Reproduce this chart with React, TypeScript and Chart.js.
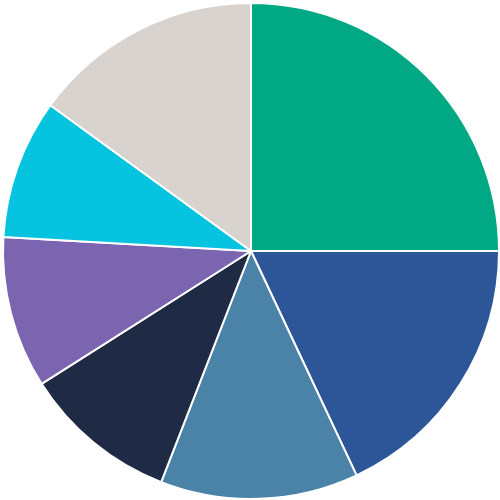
import { useEffect, useRef } from "react";
import { Chart, registerables } from "chart.js";

Chart.register(...registerables);

const SEGMENTS = ["A", "B", "C", "D", "E", "F", "G"];
const SHARES = [25.0, 18.0, 12.9, 10.1, 9.9, 9.1, 15.0];
const COLORS = ["#00A984", "#2D5699", "#4A82A8", "#1F2A44", "#7B64B0", "#06C3DF", "#D8D3CF"];

export default function App() {
  const canvasRef = useRef<HTMLCanvasElement>(null);

  useEffect(() => {
    document.body.style.margin = "0";
    const canvas = canvasRef.current;
    if (!canvas) return;
    const chart = new Chart(canvas, {
      type: "pie",
      data: {
        labels: SEGMENTS,
        datasets: [
          {
            data: SHARES,
            backgroundColor: COLORS,
            borderColor: "#FFFFFF",
            borderWidth: 2,
            hoverOffset: 0,
          },
        ],
      },
      options: {
        animation: false,
        responsive: true,
        maintainAspectRatio: false,
        layout: { padding: { left: 2, top: 2, right: 0, bottom: 0 } },
        plugins: {
          legend: { display: false },
          tooltip: { enabled: false },
        },
      },
    });
    return () => chart.destroy();
  }, []);

  return (
    <div style={{ width: 500, height: 500 }}>
      <canvas ref={canvasRef} />
    </div>
  );
}
